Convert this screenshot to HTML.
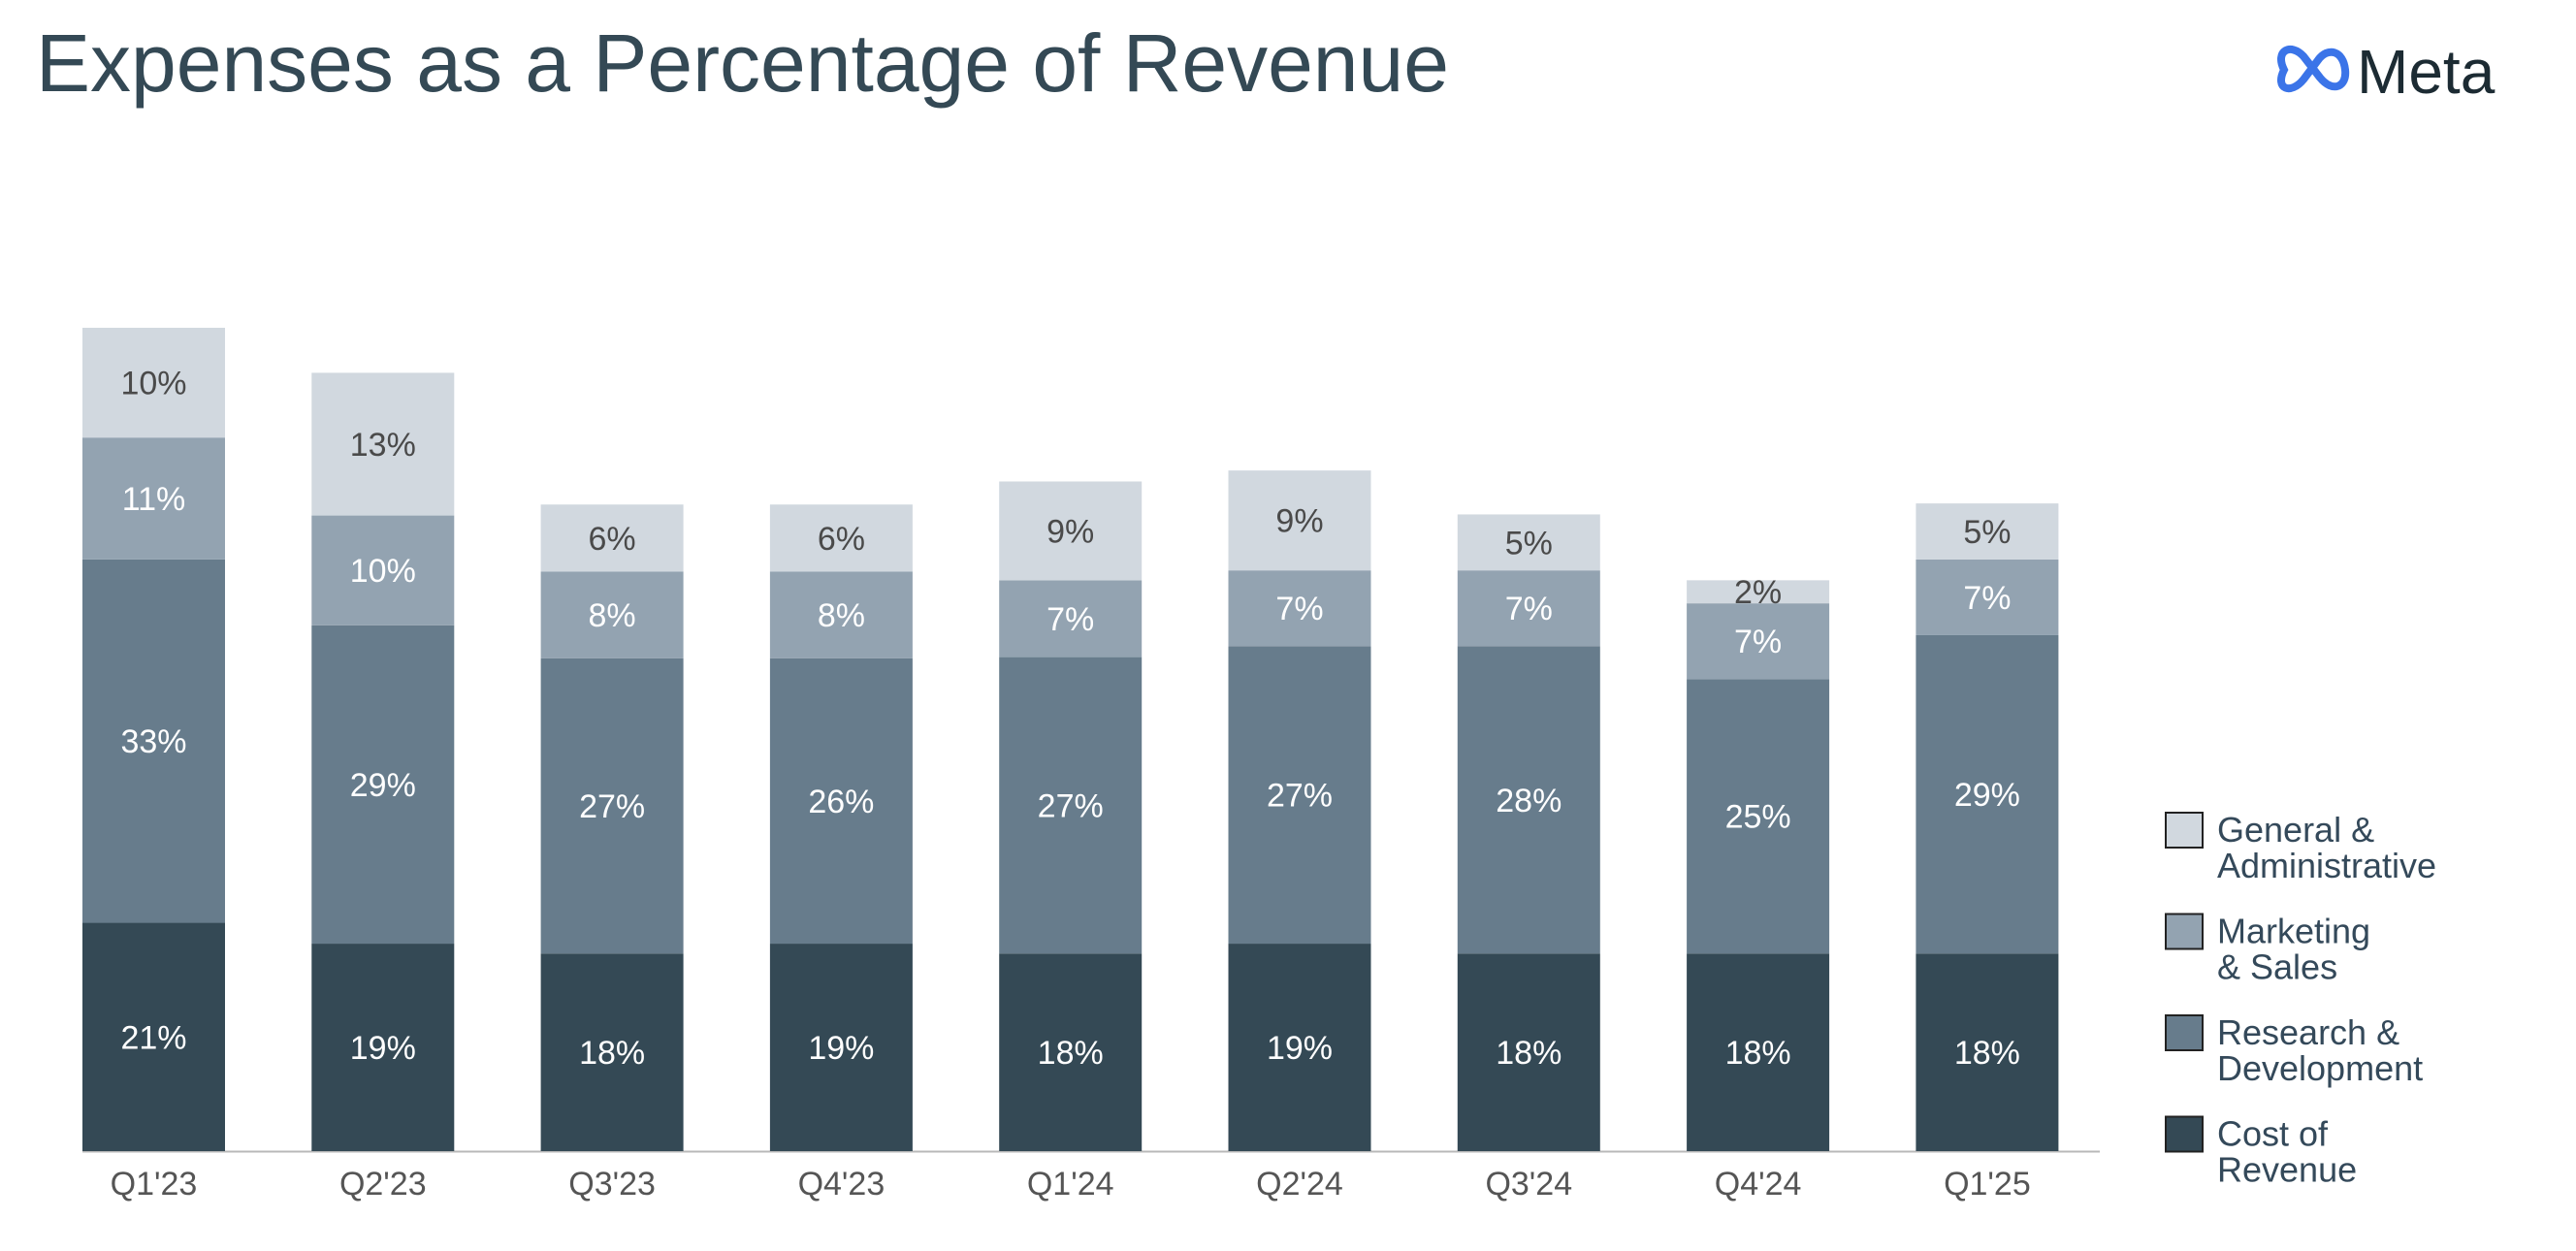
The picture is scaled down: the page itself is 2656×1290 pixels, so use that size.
<!DOCTYPE html>
<html><head><meta charset="utf-8"><style>
html,body{margin:0;padding:0;background:#fff;width:2656px;height:1290px;overflow:hidden;font-family:"Liberation Sans",sans-serif;}
svg{display:block}
</style></head><body>
<svg id="chart" width="2656" height="1290" viewBox="0 0 2656 1290" xmlns="http://www.w3.org/2000/svg">
<text x="37" y="94" font-size="84" fill="#344955" font-family="Liberation Sans, sans-serif">Expenses as a Percentage of Revenue</text>
<g>
<path d="M2355,72 C2345,52 2362,44 2375,58 L2392,80 C2405,96 2420,90 2418,72 C2416,52 2400,48 2390,62 L2375,82 C2362,98 2345,92 2355,72 Z" fill="none" stroke="#3b74e8" stroke-width="8"/>
<text x="2430" y="96" font-size="64" fill="#1c2b33" font-family="Liberation Sans, sans-serif">Meta</text>
</g>
<line x1="85" y1="1187.5" x2="2165" y2="1187.5" stroke="#b8b8b8" stroke-width="2"/>
<g id="bars"></g>
<g id="legend"></g>
</svg>
<script>
const categories = ["Q1'23","Q2'23","Q3'23","Q4'23","Q1'24","Q2'24","Q3'24","Q4'24","Q1'25"];
const costOfRevenue = [20.8,18.9,18.0,18.9,18.0,18.9,18.0,18.0,18.0];
const researchDev = [33.1,29.0,26.9,26.0,27.0,27.1,28.0,25.0,29.0];
const marketingSales = [11.1,10.0,7.9,7.9,7.0,6.9,6.9,6.9,6.9];
const generalAdmin = [10.0,13.0,6.1,6.1,9.0,9.1,5.1,2.1,5.1];
const seriesNames = ["Cost of Revenue","Research & Development","Marketing & Sales","General & Administrative"];

const NS = "http://www.w3.org/2000/svg";
const series = [costOfRevenue, researchDev, marketingSales, generalAdmin];
const colors = ["#344955","#677c8c","#93a3b1","#d1d8df"];
const textColors = ["#ffffff","#ffffff","#ffffff","#4a4a4a"];
const baseY = 1187, pxPerPct = 11.32;
const barW = 147, firstCenter = 158.5, step = 236.3;
function xCenter(i){ return firstCenter + i*step; }
function yScale(v){ return baseY - v*pxPerPct; }

const g = document.getElementById('bars');
categories.forEach((cat, i) => {
  let cum = 0;
  series.forEach((s, k) => {
    const v = s[i];
    const y0 = yScale(cum), y1 = yScale(cum + v);
    const r = document.createElementNS(NS, 'rect');
    
    
    r.setAttribute('x', xCenter(i) - barW/2);
    r.setAttribute('y', y1);
    r.setAttribute('width', barW);
    r.setAttribute('height', y0 - y1);
    r.setAttribute('fill', colors[k]);
    g.appendChild(r);
    const t = document.createElementNS(NS, 'text');
    
    
    t.setAttribute('x', xCenter(i));
    t.setAttribute('y', (y0 + y1)/2 + 12);
    t.setAttribute('text-anchor', 'middle');
    t.setAttribute('font-size', '34');
    t.setAttribute('fill', textColors[k]);
    t.textContent = Math.round(v) + '%';
    g.appendChild(t);
    cum += v;
  });
  const xl = document.createElementNS(NS, 'text');
  
  
  xl.setAttribute('x', xCenter(i));
  xl.setAttribute('y', 1232);
  xl.setAttribute('text-anchor', 'middle');
  xl.setAttribute('font-size', '34');
  xl.setAttribute('fill', '#555555');
  xl.textContent = cat;
  g.appendChild(xl);
});

const lg = document.getElementById('legend');
const legendLines = [["General &","Administrative"],["Marketing","& Sales"],["Research &","Development"],["Cost of","Revenue"]];
const legendColors = [colors[3],colors[2],colors[1],colors[0]];
legendLines.forEach((lines, j) => {
  const top = 838 + j*104.5;
  const sq = document.createElementNS(NS, 'rect');
  
  
  sq.setAttribute('x', 2233); sq.setAttribute('y', top);
  sq.setAttribute('width', 38); sq.setAttribute('height', 36);
  sq.setAttribute('fill', legendColors[j]);
  sq.setAttribute('stroke', '#222'); sq.setAttribute('stroke-width', '2');
  lg.appendChild(sq);
  lines.forEach((ln, m) => {
    const t = document.createElementNS(NS, 'text');
    
    
    t.setAttribute('x', 2286);
    t.setAttribute('y', top + 30 + m*37);
    t.setAttribute('font-size', '36');
    t.setAttribute('fill', '#34495a');
    t.textContent = ln;
    lg.appendChild(t);
  });
});
</script>
</body></html>
